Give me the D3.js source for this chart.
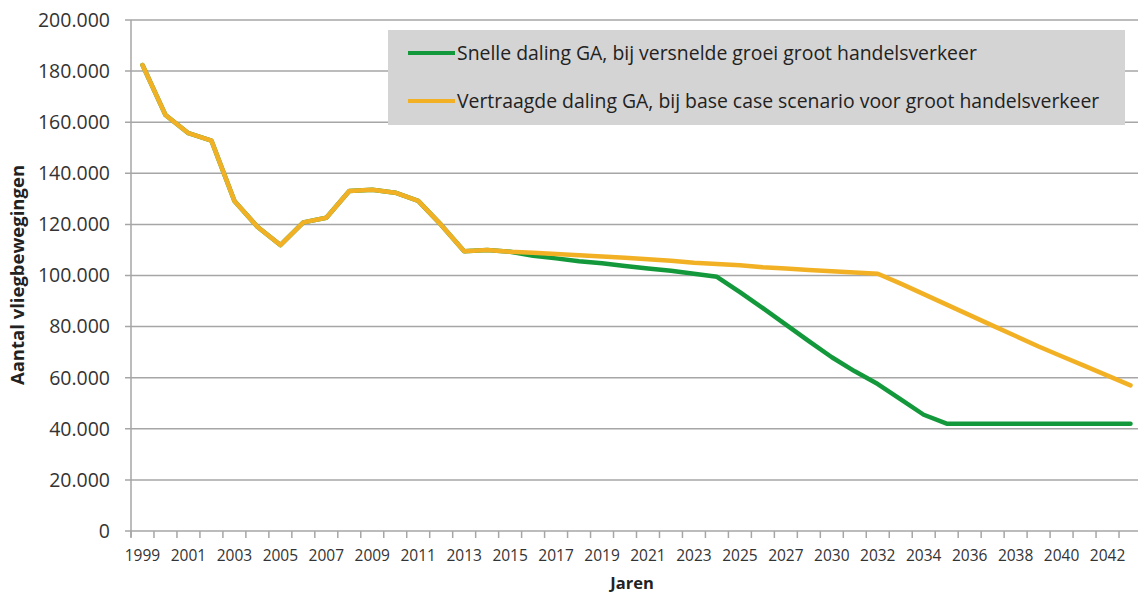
<!DOCTYPE html>
<html>
<head>
<meta charset="utf-8">
<script src="https://cdn.jsdelivr.net/npm/d3@7"></script>
<style>
  body { margin: 0; background: #fff; }
  text { font-family: "Open Sans", sans-serif; fill: #333; }
</style>
</head>
<body>
<div id="chart"></div>
<script>
'use strict'

// categories (one year is skipped between 2027 and 2030 in the source)
var years = [1999, 2000, 2001, 2002, 2003, 2004, 2005, 2006, 2007, 2008,
  2009, 2010, 2011, 2012, 2013, 2014, 2015, 2016, 2017, 2018,
  2019, 2020, 2021, 2022, 2023, 2024, 2025, 2026, 2027, 2028,
  2030, 2031, 2032, 2033, 2034, 2035, 2036, 2037, 2038, 2039,
  2040, 2041, 2042, 2043];

// shared realised values 1999-2015
var realised = [182400, 162800, 155700, 152800, 129200, 119100, 111900, 120800, 122600, 133100,
  133600, 132400, 129200, 119800, 109500, 110000, 109300];

// Snelle daling GA (2016 onwards)
var snelle = [107700, 106700, 105600, 104800, 103700, 102700, 101900, 100700, 99500,
  93500, 87200, 80800, 74300, 68000, 62500, 57500, 51500, 45500, 42000,
  42000, 42000, 42000, 42000, 42000, 42000, 42000, 42000];

// Vertraagde daling GA (2016 onwards)
var vertraagd = [108900, 108400, 107900, 107400, 106900, 106400, 105800, 105000, 104500,
  104000, 103200, 102700, 102200, 101700, 101200, 100700, 96800, 92700, 88600,
  84500, 80400, 76300, 72200, 68400, 64600, 60800, 57000];

var yTicks = [0, 20000, 40000, 60000, 80000, 100000, 120000, 140000, 160000, 180000, 200000];

var seriesNames = ['Snelle daling GA, bij versnelde groei groot handelsverkeer',
  'Vertraagde daling GA, bij base case scenario voor groot handelsverkeer'];
var seriesColors = ['#13993b', '#f2b124'];

const W = 1138, H = 594;
const margin = { top: 20, left: 131, bottom: 63 };
const plotRight = 1142;

var svg = d3.select('#chart').append('svg')
  .attr('width', W)
  .attr('height', H)
  .style('display', 'block');

var x = d3.scaleBand()
  .domain(years)
  .range([margin.left, plotRight])
  .padding(0);

var y = d3.scaleLinear()
  .domain([0, 200000])
  .range([H - margin.bottom, margin.top]);

var nl = d3.formatLocale({ decimal: ',', thousands: '.', grouping: [3], currency: ['€', ''] });
var fmt = nl.format(',');

// gridlines
svg.append('g').selectAll('line')
  .data(yTicks)
  .enter().append('line')
  .attr('x1', margin.left - 6)
  .attr('x2', W)
  .attr('y1', d => y(d))
  .attr('y2', d => y(d))
  .style('stroke', '#a6a6a6')
  .style('stroke-width', 1.5);

// y axis line
svg.append('line')
  .attr('x1', margin.left).attr('x2', margin.left)
  .attr('y1', y(200000)).attr('y2', y(0) + 6)
  .style('stroke', '#a6a6a6')
  .style('stroke-width', 1.5);

// y labels
svg.append('g').selectAll('text')
  .data(yTicks)
  .enter().append('text')
  .attr('x', 110)
  .attr('y', d => y(d))
  .attr('dy', '0.35em')
  .style('text-anchor', 'end')
  .style('font-size', '19.5px')
  .text(d => d === 0 ? '0' : fmt(d));

// x ticks at band edges
var edges = years.map(d => x(d)).concat([plotRight]);
svg.append('g').selectAll('line')
  .data(edges)
  .enter().append('line')
  .attr('x1', d => d).attr('x2', d => d)
  .attr('y1', y(0)).attr('y2', y(0) + 7)
  .style('stroke', '#a6a6a6')
  .style('stroke-width', 1.5);

// x labels (every other category)
svg.append('g').selectAll('text')
  .data(years.filter((d, i) => i % 2 === 0))
  .enter().append('text')
  .attr('x', d => x(d) + x.bandwidth() / 2)
  .attr('y', 561)
  .style('text-anchor', 'middle')
  .style('font-size', '15.5px')
  .text(d => d);

// axis titles
svg.append('text')
  .attr('transform', 'translate(24, 275) rotate(-90)')
  .style('text-anchor', 'middle')
  .style('font-size', '18.5px')
  .style('font-weight', 'bold')
  .style('fill', '#222')
  .text('Aantal vliegbewegingen');

svg.append('text')
  .attr('x', 632)
  .attr('y', 589)
  .style('text-anchor', 'middle')
  .style('font-size', '16.5px')
  .style('font-weight', 'bold')
  .style('fill', '#222')
  .text('Jaren');

// legend box
var legend = svg.append('g');
legend.append('rect')
  .attr('x', 388).attr('y', 30)
  .attr('width', 737).attr('height', 95)
  .style('fill', '#d4d4d4');

seriesNames.forEach((name, i) => {
  var ly = 53 + i * 48;
  legend.append('line')
    .attr('x1', 408).attr('x2', 455)
    .attr('y1', ly).attr('y2', ly)
    .style('stroke', seriesColors[i])
    .style('stroke-width', 4);
  legend.append('text')
    .attr('x', 457)
    .attr('y', ly)
    .attr('dy', '0.35em')
    .style('font-size', '19.4px')
    .style('fill', '#222')
    .text(name);
});

// build series
var rows = [realised.concat(snelle), realised.concat(vertraagd)];

var line = d3.line()
  .x((d, i) => x(years[i]) + x.bandwidth() / 2)
  .y(d => y(d));

svg.append('g').selectAll('path')
  .data(rows)
  .enter().append('path')
  .attr('d', d => line(d))
  .style('fill', 'none')
  .style('stroke', (d, i) => seriesColors[i])
  .style('stroke-width', 4.5)
  .style('stroke-linejoin', 'round')
  .style('stroke-linecap', 'round');
</script>
</body>
</html>
